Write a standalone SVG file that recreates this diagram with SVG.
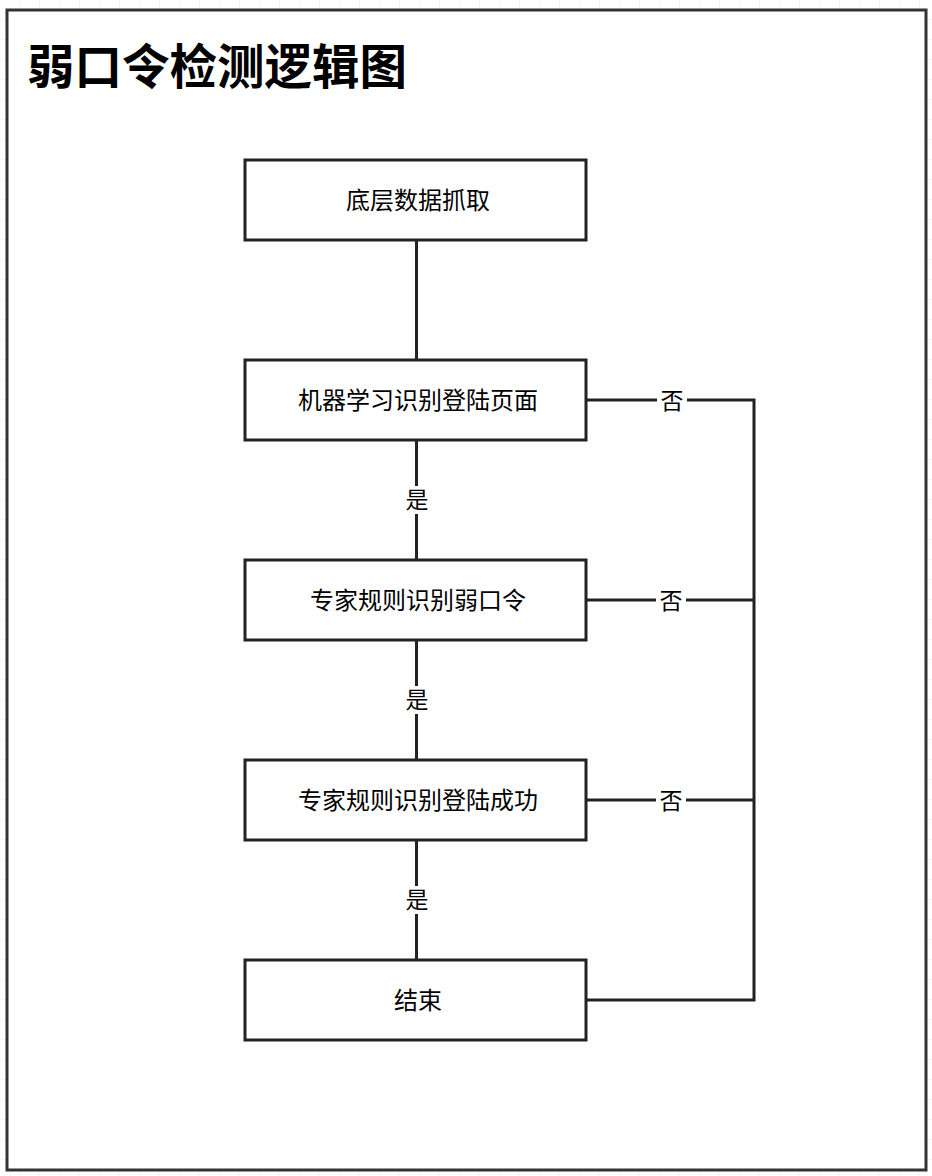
<svg xmlns="http://www.w3.org/2000/svg" width="932" height="1176" viewBox="0 0 932 1176">
<style>
.node rect{fill:#fff;stroke:#222;stroke-width:3}
.t{font-family:"Noto Sans CJK SC","Noto Sans",sans-serif;font-size:24px;fill:#000;text-anchor:middle;dominant-baseline:central}
.lbl{font-family:"Noto Sans CJK SC","Noto Sans",sans-serif;font-size:23px;fill:#000;text-anchor:middle;dominant-baseline:central}
.lblbg{fill:#fff}
#connectors path{fill:none;stroke:#222;stroke-width:3}
</style>
<defs>
<pattern id="grid" width="20" height="20" patternUnits="userSpaceOnUse">
<path d="M20 0V20M0 20H20" fill="none" stroke="#e6e8f5" stroke-width="1"/>
</pattern>
</defs>
<rect width="932" height="1176" fill="#fff"/>
<rect width="932" height="1176" fill="url(#grid)"/>
<g id="frame">
<rect x="7" y="10" width="919" height="1160" fill="#fff" stroke="#333" stroke-width="3"/>
<text x="27" y="63" font-family="Noto Sans CJK SC,Noto Sans,sans-serif" font-size="47.5" font-weight="bold" dominant-baseline="central">弱口令检测逻辑图</text>
</g>
<g id="connectors">
<path d="M416.5 240V360"/>
<path d="M416.5 440V560"/>
<path d="M416.5 640V760"/>
<path d="M416.5 840V960"/>
<path d="M586 400H754V1000H586"/>
<path d="M586 600H754"/>
<path d="M586 800H754"/>
<g>
<rect class="lblbg" x="404" y="486" width="26" height="28"/>
<text class="lbl" x="417" y="498">是</text>
<rect class="lblbg" x="404" y="686" width="26" height="28"/>
<text class="lbl" x="417" y="698">是</text>
<rect class="lblbg" x="404" y="886" width="26" height="28"/>
<text class="lbl" x="417" y="898">是</text>
<rect class="lblbg" x="657" y="386" width="30" height="28"/>
<text class="lbl" x="672" y="399">否</text>
<rect class="lblbg" x="656" y="586" width="30" height="28"/>
<text class="lbl" x="671" y="599">否</text>
<rect class="lblbg" x="656" y="786" width="30" height="28"/>
<text class="lbl" x="671" y="799">否</text>
</g>
</g>
<g id="n1" class="node"><rect x="245" y="160" width="341" height="80"/><text class="t" x="418" y="198">底层数据抓取</text></g>
<g id="n2" class="node"><rect x="245" y="360" width="341" height="80"/><text class="t" x="418" y="398">机器学习识别登陆页面</text></g>
<g id="n3" class="node"><rect x="245" y="560" width="341" height="80"/><text class="t" x="418" y="598">专家规则识别弱口令</text></g>
<g id="n4" class="node"><rect x="245" y="760" width="341" height="80"/><text class="t" x="418" y="798">专家规则识别登陆成功</text></g>
<g id="n5" class="node"><rect x="245" y="960" width="341" height="80"/><text class="t" x="418" y="998">结束</text></g>
</svg>
